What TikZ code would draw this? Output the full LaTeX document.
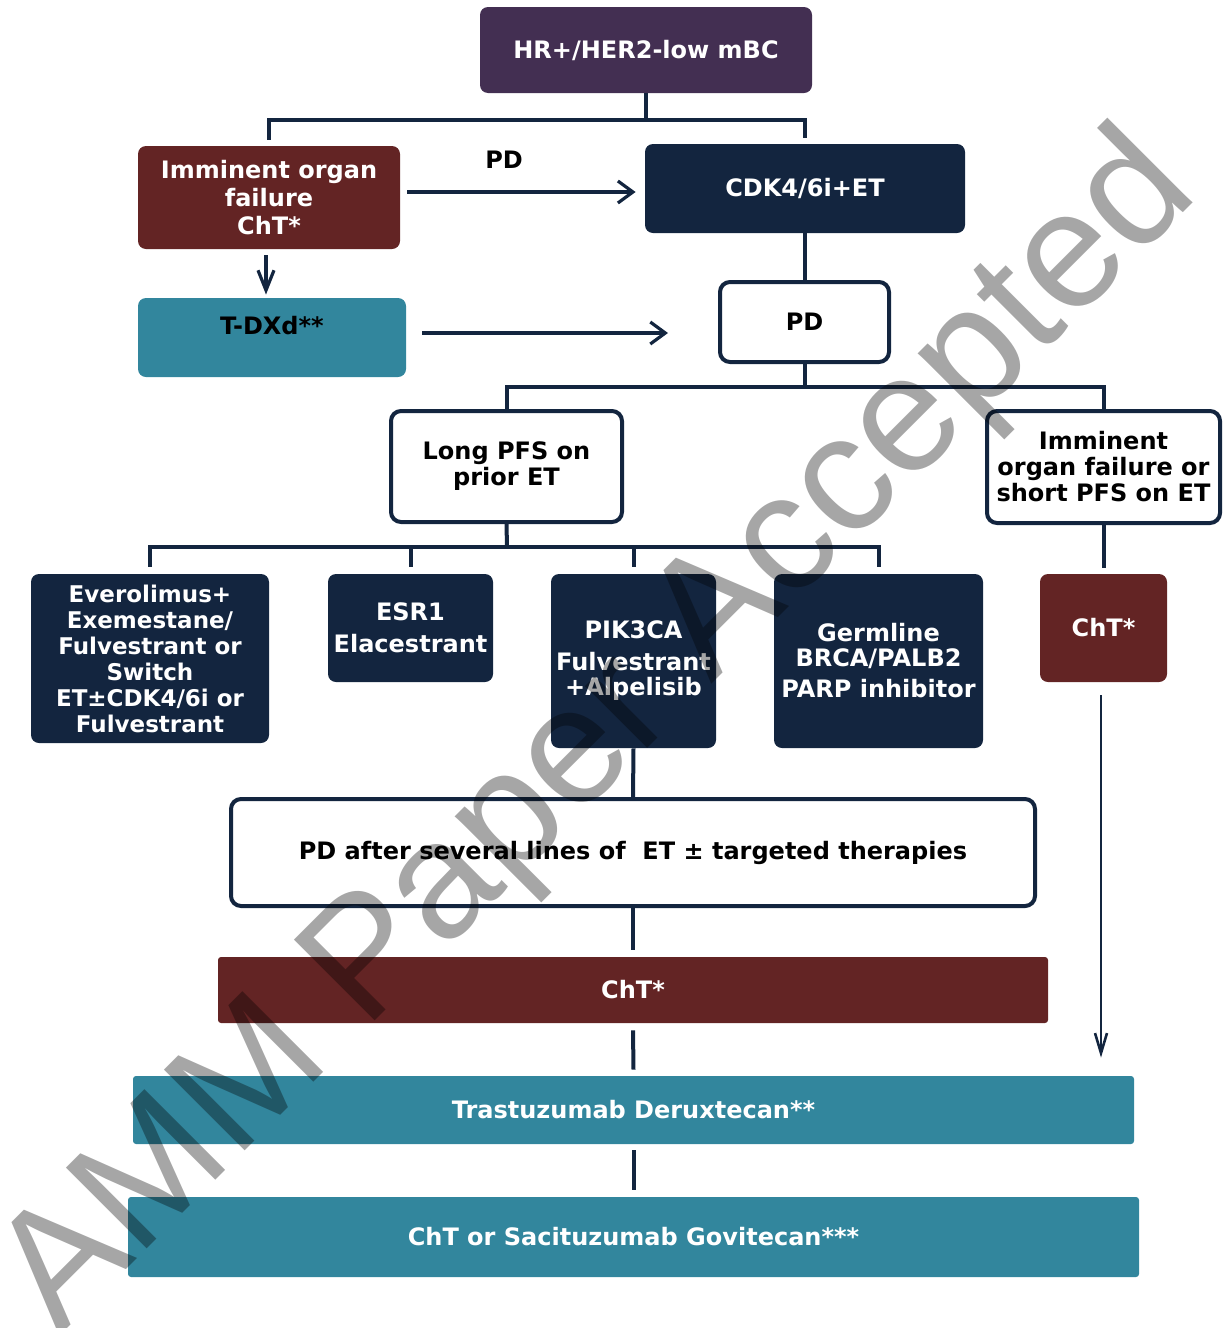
\documentclass[tikz,border=0pt]{standalone}
\usepackage{fontspec}
\setmainfont{DejaVu Sans}
\newfontfamily\stampfont{Liberation Sans}
\usepackage{xcolor}
\usepackage{tikz}
\usetikzlibrary{arrows.meta}
\usetikzlibrary{calc}
\usetikzlibrary{positioning}
\definecolor{hrpurple}{RGB}{67,47,82}
\definecolor{chtred}{RGB}{99,36,36}
\definecolor{navy}{RGB}{19,37,63}
\definecolor{teal}{RGB}{50,134,157}
\tikzstyle{box} = [rectangle, rounded corners=4pt, inner sep=0pt, align=center, font=\bfseries\fontsize{12}{14}\selectfont]
\tikzstyle{navybox} = [box, fill=navy, text=white]
\tikzstyle{redbox} = [box, fill=chtred, text=white]
\tikzstyle{tealbox} = [box, fill=teal, text=white]
\tikzstyle{openbox} = [box, draw=navy, line width=2pt, fill=white, text=black, rounded corners=5pt]
\tikzstyle{link} = [draw=navy, line width=2pt]
\tikzstyle{arrow} = [draw=navy, line width=1.6pt, -{Straight Barb[length=7.5pt,width=11pt]}]

\begin{document}
\begin{tikzpicture}[x=0.5pt, y=-0.5pt]
\useasboundingbox (0,0) rectangle (1224,1328);
% top of the tree
\node [box, fill=hrpurple, text=white, minimum width=166pt, minimum height=43pt] (hr) at (646,50) {HR+/HER2-low mBC};
\node [redbox, minimum width=131pt, minimum height=51.5pt, font=\bfseries\fontsize{12}{14.2}\selectfont] (imm) at (269,197.5) {Imminent organ\\failure\\ChT*};
\node [navybox, minimum width=160pt, minimum height=44.5pt] (cdk) at (805,188.5) {CDK4/6i+ET};
\node [tealbox, text=black, minimum width=134pt, minimum height=39.5pt, text height=9pt, text depth=11.7pt] (tdxd) at (272,337.5) {T-DXd**};
\node [openbox, minimum width=84.5pt, minimum height=40pt] (pd) at (804.5,322) {PD};
\node [box] (pdlabel) at (504,160) {PD};
% second level
\node [openbox, minimum width=115.5pt, minimum height=55.5pt, font=\bfseries\fontsize{12}{13}\selectfont] (longpfs) at (506.5,466.5) {Long PFS on\\prior ET};
\node [openbox, minimum width=116.5pt, minimum height=56pt, font=\bfseries\fontsize{12}{13}\selectfont] (shortpfs) at (1103.5,467) {Imminent\\organ failure or\\short PFS on ET};
% treatment options
\node [navybox, minimum width=119pt, minimum height=84.5pt, font=\bfseries\fontsize{11.5}{13}\selectfont] (evero) at (150,658.5) {Everolimus+\\Exemestane/\\Fulvestrant or\\Switch\\ET±CDK4/6i or\\Fulvestrant};
\node [navybox, minimum width=82.5pt, minimum height=54pt, font=\bfseries\fontsize{12}{16}\selectfont] (esr) at (410.5,628) {ESR1\\Elacestrant};
\node [navybox, minimum width=82.5pt, minimum height=87pt, font=\bfseries\fontsize{12}{12.5}\selectfont] (pik) at (633.5,661) {PIK3CA\\[3.5pt]Fulvestrant\\+Alpelisib};
\node [navybox, minimum width=104.5pt, minimum height=87pt, font=\bfseries\fontsize{12}{12.5}\selectfont] (germ) at (878.5,661) {Germline\\BRCA/PALB2\\[3pt]PARP inhibitor};
\node [redbox, minimum width=63.5pt, minimum height=54pt] (rcht) at (1103.5,628) {ChT*};
% later lines
\node [openbox, minimum width=402pt, minimum height=53.5pt] (pdafter) at (633,852.5) {PD after several lines of~ ET ± targeted therapies};
\node [redbox, rounded corners=1.5pt, minimum width=415pt, minimum height=33pt] (cht) at (633,990) {ChT*};
\node [tealbox, rounded corners=1.5pt, minimum width=500.5pt, minimum height=34pt] (tdx) at (633.5,1110) {Trastuzumab Deruxtecan**};
\node [tealbox, rounded corners=1.5pt, minimum width=505.5pt, minimum height=40pt] (sg) at (633.5,1237) {ChT or Sacituzumab Govitecan***};

% connectors
\coordinate (hrsplit) at (646,120);
\draw[link] (hr.south) -- (hrsplit);
\draw[link] (hrsplit) -| ([yshift=3pt]imm.north);
\draw[link] (hrsplit) -| ([yshift=3pt]cdk.north);
\draw[arrow] ([xshift=3.5pt,yshift=2.75pt]imm.east) -- ([xshift=-4.5pt,yshift=-1.75pt]cdk.west);
\draw[arrow, -{Straight Barb[length=10pt,width=8pt]}] ([xshift=-1.5pt,yshift=-3pt]imm.south) -- ([xshift=-1.5pt,yshift=1.5pt]imm.south |- tdxd.north);
\draw[arrow] ([xshift=8pt,yshift=2.25pt]tdxd.east) -- ([xshift=-25pt,yshift=-5.5pt]pd.west);
\draw[link] (cdk.south) -- (cdk.south |- pd.north);
\coordinate (pdsplit) at (805,387);
\draw[link] (pd.south -| pdsplit) -- (pdsplit);
\draw[link] (pdsplit) -| (longpfs.north);
\draw[link] (pdsplit) -| (shortpfs.north);
\coordinate (longsplit) at (507,547);
\draw[link] (longpfs.south) -- (longsplit);
\foreach \opt in {evero, esr, pik, germ}
  \draw[link] (longsplit) -| ([yshift=3.5pt]\opt.north);
\draw[link] (shortpfs.south) -- ([yshift=3pt]rcht.north);
\draw[draw=navy, line width=1.3pt, -{Straight Barb[length=10pt,width=6pt]}] ([xshift=-1.25pt,yshift=-6.5pt]rcht.south) -- ([xshift=-1.25pt,yshift=9pt]rcht.south |- tdx.north);
\draw[link] (pik.south) -- (pdafter.north);
\draw[link] (pdafter.south) -- ([yshift=3.5pt]cht.north);
\draw[link] ([yshift=-3.5pt]cht.south) -- ([yshift=3pt]tdx.north);
\draw[link] ([yshift=-3pt]tdx.south) -- ([yshift=3.5pt]sg.north);

% stamp across the page
\node [rotate=45, anchor=base, text=black, text opacity=0.35, inner sep=0pt, font=\stampfont\fontsize{83}{83}\selectfont] (stamp) at (630,766) {AMM Paper Accepted};
\end{tikzpicture}
\end{document}
